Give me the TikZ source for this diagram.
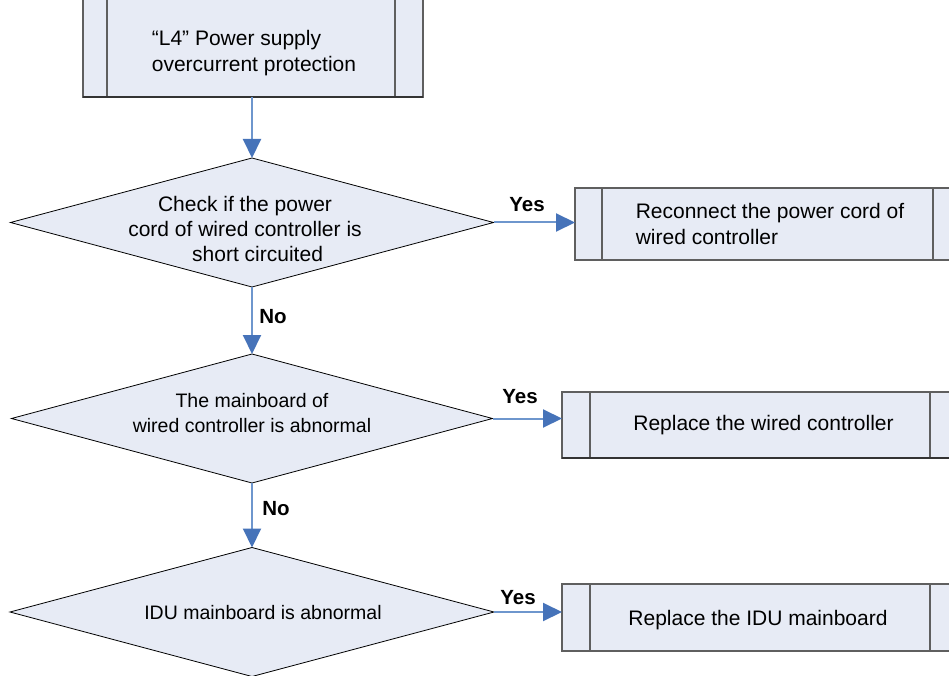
\documentclass[tikz,border=0pt]{standalone}
\usepackage{fontspec}
\setmainfont{Liberation Sans}
\usetikzlibrary{shapes.geometric,arrows.meta}
\definecolor{boxfill}{RGB}{231,235,245}
\definecolor{boxline}{RGB}{95,95,95}
\definecolor{flowline}{RGB}{110,150,205}
\definecolor{flowhead}{RGB}{70,115,185}
\begin{document}
\begin{tikzpicture}[x=1pt,y=-1pt,
  procbox/.style={draw=boxline, fill=boxfill, line width=1.1pt, rectangle, inner sep=0pt, outer sep=0pt,
     font=\fontsize{21}{26}\selectfont, align=left},
  divider/.style={draw=boxline, line width=1.1pt},
  boxbottom/.style={draw=black!80, line width=2pt},
  dia/.style={draw=black, fill=boxfill, line width=0.8pt, diamond, inner sep=0pt, outer sep=0pt},
  diatext/.style={font=\fontsize{21}{25}\selectfont, align=center, inner sep=0pt},
  diatextb/.style={font=\fontsize{19.5}{25}\selectfont, align=center, inner sep=0pt},
  lab/.style={font=\bfseries\fontsize{20.5}{24}\selectfont, inner sep=0pt},
  flow/.style={draw=flowline, line width=2pt, -{Triangle[length=19pt,width=18pt,color=flowhead]}}
]
\useasboundingbox (0,0) rectangle (949,676);
\clip (0,0) rectangle (949,676);
\fill[white] (0,0) rectangle (949,676);

% top box
\node[procbox, minimum width=340pt, minimum height=117pt] (b1) at (253,38.5) {};
\draw[divider] ([xshift=24pt]b1.north west) -- ([xshift=24pt]b1.south west);
\draw[divider] ([xshift=-28pt]b1.north east) -- ([xshift=-28pt]b1.south east);
\draw[boxbottom] (b1.south west) -- (b1.south east);
\node[font=\fontsize{21}{26}\selectfont, align=left, inner sep=0pt] (t1) at (254,53)
  {“L4” Power supply\\overcurrent protection};

% diamonds
\node[dia, minimum width=483pt, minimum height=129pt] (d1) at (252,222.5) {};
\node[diatext] (t2) at (245,229) {Check if the power\\cord of wired controller is\\\hspace*{1.2em}short circuited};
\node[dia, minimum width=481pt, minimum height=129pt] (d2) at (252,418.5) {};
\node[diatextb] (t3) at (252,413.5) {The mainboard of\\wired controller is abnormal};
\node[dia, minimum width=484pt, minimum height=129pt] (d3) at (252,612) {};
\node[diatextb] (t4) at (263,613) {IDU mainboard is abnormal};

% right boxes
\node[procbox, minimum width=390pt, minimum height=72pt] (b2) at (770,224)
  {Reconnect the power cord of\\wired controller};
\draw[divider] ([xshift=27pt]b2.north west) -- ([xshift=27pt]b2.south west);
\draw[divider] ([xshift=-32pt]b2.north east) -- ([xshift=-32pt]b2.south east);
\draw[draw=boxline, line width=1.6pt] (b2.south west) -- (b2.south east);

\node[procbox, minimum width=403pt, minimum height=66pt] (b3) at (763.5,425)
  {Replace the wired controller};
\draw[divider] ([xshift=28pt]b3.north west) -- ([xshift=28pt]b3.south west);
\draw[divider] ([xshift=-35pt]b3.north east) -- ([xshift=-35pt]b3.south east);
\draw[boxbottom] (b3.south west) -- (b3.south east);

\node[procbox, minimum width=403pt, minimum height=67pt] (b4) at (763.5,617.5) {};
\node[font=\fontsize{21}{26}\selectfont, inner sep=0pt] (t5) at (758,620) {Replace the IDU mainboard};
\draw[divider] ([xshift=28pt]b4.north west) -- ([xshift=28pt]b4.south west);
\draw[divider] ([xshift=-35pt]b4.north east) -- ([xshift=-35pt]b4.south east);
\draw[draw=boxline, line width=1.6pt] (b4.south west) -- (b4.south east);

% connectors
\draw[flow] (d1.north |- b1.south) -- (d1.north);
\draw[flow] (d1.east) -- (b2.west |- d1.east);
\draw[flow] (d1.south) -- (d2.north);
\draw[flow] (d2.east) -- (b3.west |- d2.east);
\draw[flow] (d2.south) -- (d3.north);
\draw[flow] (d3.east) -- (b4.west |- d3.east);

% labels
\node[lab] (y1) at (527,205) {Yes};
\node[lab] (y2) at (520,397) {Yes};
\node[lab] (y3) at (518,598) {Yes};
\node[lab] (n1) at (273,317) {No};
\node[lab] (n2) at (276,509) {No};
\end{tikzpicture}
\end{document}
